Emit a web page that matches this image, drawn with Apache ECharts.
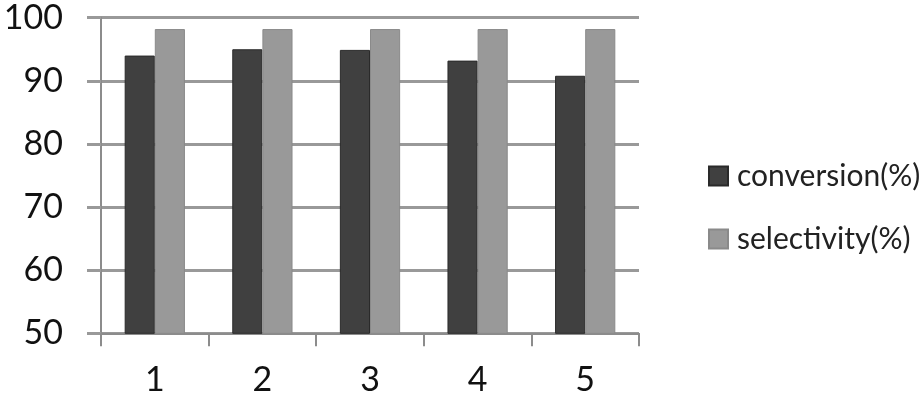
<!DOCTYPE html>
<html>
<head>
<meta charset="utf-8">
<script src="https://cdn.jsdelivr.net/npm/echarts@6/dist/echarts.min.js"></script>
<style>html,body{margin:0;padding:0;background:#fff;}#c{width:924px;height:402px;}</style>
</head>
<body>
<div id="c"></div>
<script>
var categories = ['1', '2', '3', '4', '5'];
var conversion = [94, 95, 94.9, 93.2, 90.8];
var selectivity = [98.2, 98.2, 98.2, 98.2, 98.2];
var seriesNames = ['conversion(%)', 'selectivity(%)'];

var chart = echarts.init(document.getElementById('c'), null, {renderer: 'canvas'});
var font = 'Lato, "Open Sans", sans-serif';
chart.setOption({
  animation: false,
  backgroundColor: '#fff',
  grid: {left: 101, right: 285, top: 17.7, bottom: 68.7, containLabel: false},
  legend: {
    orient: 'vertical', left: 703, top: 156,
    itemWidth: 19, itemHeight: 19, itemGap: 33,
    icon: 'rect',
    textStyle: {fontFamily: font, fontSize: 30, color: '#222', padding: [0, 0, 0, 4]},
    data: seriesNames
  },
  xAxis: {
    type: 'category', data: categories, boundaryGap: true,
    axisLine: {show: true, lineStyle: {color: '#8c8c8c', width: 2}},
    axisTick: {show: true, length: 13, lineStyle: {color: '#8c8c8c', width: 2}},
    axisLabel: {fontFamily: font, fontSize: 34, color: '#111', margin: 30},
    splitLine: {show: false}
  },
  yAxis: {
    type: 'value', min: 50, max: 100, interval: 10,
    axisLine: {show: true, lineStyle: {color: '#8c8c8c', width: 2}},
    axisTick: {show: true, length: 14, lineStyle: {color: '#999', width: 3}},
    axisLabel: {fontFamily: font, fontSize: 34, color: '#111', margin: 38},
    splitLine: {show: true, lineStyle: {color: '#999', width: 3}}
  },
  series: [
    {
      name: seriesNames[0], type: 'bar', data: conversion,
      barGap: '0%', barCategoryGap: '44%',
      itemStyle: {color: '#404040', borderColor: '#2a2a2a', borderWidth: 1}
    },
    {
      name: seriesNames[1], type: 'bar', data: selectivity,
      barGap: '0%', barCategoryGap: '44%',
      itemStyle: {color: '#999999', borderColor: '#8a8a8a', borderWidth: 1}
    }
  ]
});
</script>
</body>
</html>
